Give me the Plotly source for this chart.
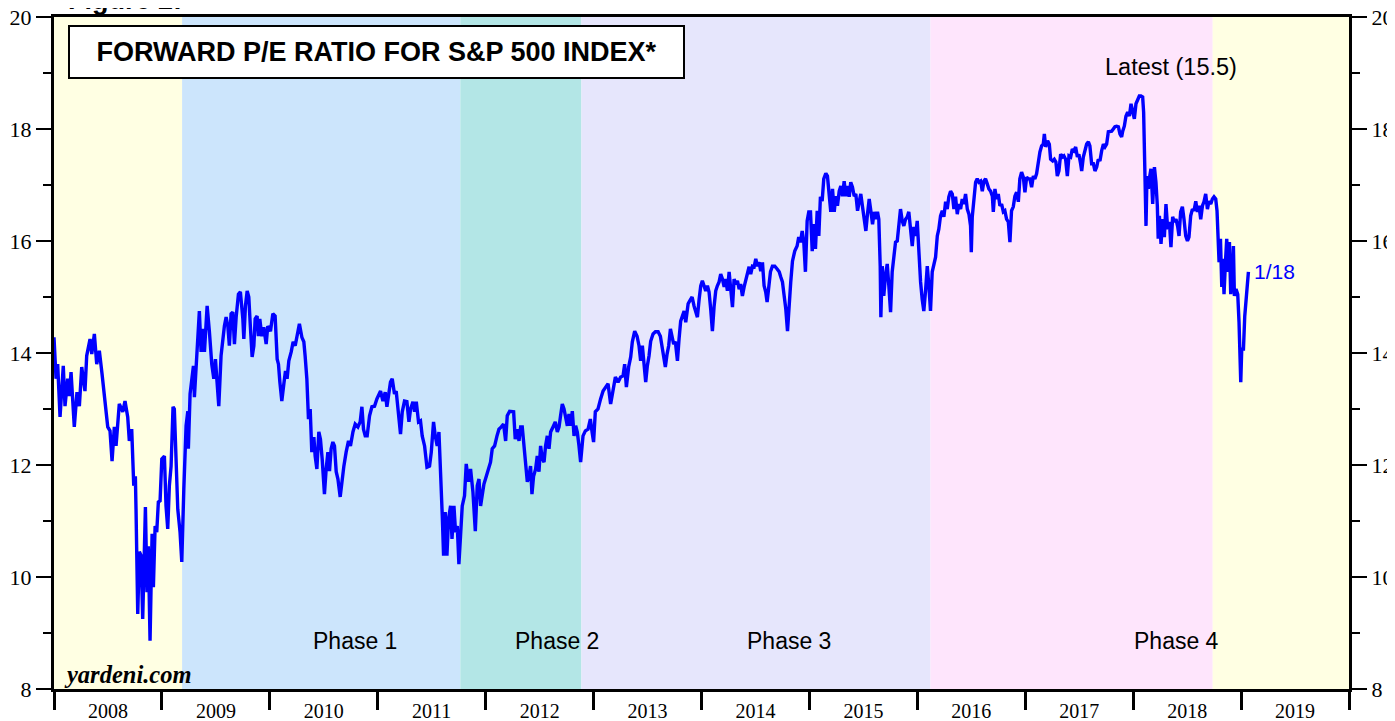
import plotly.graph_objects as go

# Forward P/E for S&P 500 (weekly-ish readings), time as decimal year
dates = [
2008.000,2008.019,2008.034,2008.056,2008.086,2008.102,2008.127,2008.142,2008.158,2008.188,
2008.213,2008.235,2008.257,2008.287,2008.303,2008.334,2008.350,2008.374,2008.396,2008.420,
2008.445,2008.473,2008.498,2008.519,2008.538,2008.559,2008.575,2008.605,2008.637,2008.658,
2008.683,2008.698,2008.720,2008.739,2008.754,2008.760,2008.776,2008.791,2008.807,2008.822,
2008.837,2008.847,2008.862,2008.874,2008.890,2008.909,2008.921,2008.937,2008.952,2008.967,
2008.983,2008.999,2009.023,2009.038,2009.054,2009.069,2009.085,2009.103,2009.115,2009.128,
2009.147,2009.168,2009.184,
2009.203,2009.224,2009.240,2009.245,2009.261,2009.277,2009.292,2009.301,2009.317,2009.332,
2009.347,2009.363,2009.379,2009.394,2009.419,2009.440,2009.462,2009.481,2009.496,2009.511,
2009.527,2009.548,2009.564,2009.579,2009.595,2009.611,2009.625,2009.641,2009.657,2009.672,
2009.688,2009.709,2009.727,2009.750,2009.759,2009.774,2009.790,2009.805,2009.820,2009.836,
2009.852,2009.864,2009.882,2009.894,2009.907,2009.926,2009.944,2009.966,2009.981,2010.006,
2010.028,2010.049,2010.068,2010.080,2010.093,2010.111,2010.130,2010.145,2010.160,2010.176,
2010.198,2010.216,2010.235,2010.253,2010.274,2010.297,2010.315,2010.327,2010.343,2010.358,
2010.374,2010.389,2010.408,2010.420,2010.436,2010.454,2010.469,2010.485,2010.506,2010.522,
2010.538,2010.553,2010.568,2010.584,2010.599,2010.615,2010.631,2010.652,2010.670,2010.686,
2010.707,2010.729,2010.747,2010.770,2010.791,2010.816,2010.837,2010.853,2010.868,2010.884,
2010.902,2010.924,2010.946,2010.970,2010.992,2011.011,2011.026,2011.048,2011.069,2011.085,
2011.100,2011.118,2011.134,2011.155,2011.171,2011.192,2011.211,2011.227,2011.248,2011.270,
2011.289,2011.304,2011.326,2011.341,2011.357,2011.378,2011.396,2011.412,2011.434,2011.456,
2011.480,2011.496,2011.517,2011.533,2011.551,2011.567,2011.582,2011.598,2011.610,2011.625,
2011.641,2011.656,2011.675,2011.688,2011.706,2011.721,2011.737,2011.752,2011.767,2011.783,
2011.804,2011.820,2011.841,2011.860,2011.882,2011.904,2011.922,2011.938,2011.953,
2011.984,2012.006,2012.027,2012.045,2012.061,2012.083,2012.105,2012.123,2012.145,2012.166,
2012.185,2012.200,2012.222,2012.244,2012.259,2012.274,2012.293,2012.309,2012.324,2012.339,
2012.355,2012.370,2012.386,2012.401,2012.416,2012.429,2012.444,2012.463,2012.478,2012.494,
2012.509,2012.525,2012.541,2012.555,2012.571,2012.587,2012.602,2012.624,2012.645,2012.664,
2012.680,2012.694,2012.710,2012.726,2012.741,2012.757,2012.772,2012.787,2012.803,2012.819,
2012.834,2012.849,2012.865,2012.880,
2012.902,2012.924,2012.949,2012.970,2012.986,2013.000,2013.016,2013.041,2013.065,2013.088,
2013.112,2013.134,2013.158,2013.180,2013.202,2013.227,2013.251,2013.273,2013.288,2013.304,
2013.325,2013.344,2013.359,2013.381,2013.403,2013.421,2013.436,2013.452,2013.468,2013.483,
2013.498,2013.514,2013.529,2013.551,2013.573,2013.598,2013.619,2013.635,2013.650,2013.665,
2013.681,2013.696,2013.712,2013.727,2013.742,2013.758,2013.777,2013.792,2013.807,2013.823,
2013.839,2013.854,2013.876,2013.891,2013.913,2013.931,2013.946,2013.962,2013.978,2013.993,
2014.008,2014.024,2014.039,2014.055,2014.070,2014.085,2014.101,2014.117,2014.132,2014.147,
2014.163,2014.178,2014.194,2014.210,2014.224,2014.240,2014.256,2014.271,2014.287,2014.302,
2014.317,2014.333,2014.349,2014.363,2014.379,2014.395,2014.410,2014.426,2014.441,2014.456,
2014.472,2014.488,2014.503,2014.518,2014.534,2014.549,2014.565,2014.580,2014.595,2014.608,
2014.623,2014.639,2014.657,2014.679,2014.701,2014.720,2014.734,2014.750,2014.766,2014.781,
2014.797,2014.812,2014.827,
2014.843,2014.864,2014.886,2014.901,2014.917,2014.933,2014.948,2014.963,2014.979,2014.994,
2015.010,2015.026,2015.040,2015.056,2015.072,2015.087,2015.102,2015.118,2015.133,2015.152,
2015.167,2015.183,2015.198,2015.214,2015.230,2015.244,2015.260,2015.276,2015.291,2015.306,
2015.322,2015.337,2015.353,2015.369,2015.383,2015.399,2015.415,2015.430,2015.446,2015.461,
2015.476,2015.492,2015.508,2015.523,2015.538,2015.554,2015.569,2015.585,2015.600,2015.615,
2015.631,2015.643,2015.656,2015.662,2015.675,2015.689,2015.705,2015.721,2015.736,2015.752,
2015.767,2015.782,2015.798,2015.814,2015.829,2015.844,2015.860,2015.875,2015.891,2015.906,
2015.921,2015.937,2015.953,2015.968,2015.983,2015.999,2016.014,2016.030,2016.045,2016.060,
2016.076,2016.092,2016.107,2016.122,2016.138,2016.153,2016.169,2016.185,2016.199,2016.215,
2016.231,2016.246,2016.262,2016.277,2016.292,2016.308,2016.324,2016.339,2016.354,2016.370,
2016.385,2016.401,2016.416,2016.431,2016.447,2016.463,2016.478,2016.493,2016.500,2016.509,
2016.524,2016.540,2016.555,2016.570,2016.586,2016.602,2016.617,2016.632,2016.648,2016.663,
2016.679,
2016.695,2016.704,2016.719,2016.734,2016.750,2016.765,2016.781,2016.797,2016.811,2016.827,
2016.843,2016.858,2016.873,2016.889,2016.904,2016.920,2016.936,2016.950,2016.966,2016.982,
2016.997,2017.013,2017.028,2017.043,2017.059,2017.075,2017.089,2017.105,2017.121,2017.136,
2017.152,2017.167,2017.177,2017.189,2017.207,2017.223,2017.235,2017.254,2017.269,2017.284,
2017.297,2017.312,2017.328,2017.344,2017.358,2017.374,2017.390,2017.405,2017.421,2017.436,
2017.451,2017.467,2017.483,2017.497,2017.513,2017.523,2017.538,2017.553,2017.569,2017.585,
2017.599,2017.615,2017.631,2017.646,2017.662,2017.677,2017.692,2017.708,2017.724,2017.739,
2017.754,2017.770,2017.785,2017.801,2017.816,2017.831,2017.847,2017.863,2017.878,2017.893,
2017.903,2017.918,2017.933,2017.949,2017.965,2017.980,2017.995,2018.011,2018.026,2018.042,
2018.057,2018.072,2018.088,2018.097,2018.104,2018.113,2018.119,2018.128,2018.141,2018.150,
2018.165,2018.181,2018.197,2018.211,2018.224,2018.232,2018.243,2018.258,
2018.274,2018.289,2018.304,2018.320,2018.336,2018.350,2018.366,2018.382,2018.397,2018.413,
2018.425,2018.440,2018.456,2018.471,2018.487,2018.503,2018.517,2018.533,2018.549,2018.564,
2018.580,2018.595,2018.610,2018.626,2018.642,2018.656,2018.672,2018.688,2018.703,2018.719,
2018.734,2018.749,2018.765,2018.777,2018.790,2018.796,2018.809,2018.821,2018.830,2018.842,
2018.855,2018.867,2018.879,2018.892,2018.904,2018.920,2018.929,2018.938,2018.953,2018.969,
2018.981,2018.990,2018.997,2019.006,2019.022,2019.034,2019.046,2019.055,2019.068,
]

pe = [
14.28,13.54,13.80,12.86,13.77,13.05,13.54,13.23,13.66,12.68,
13.30,13.05,13.75,13.32,13.95,14.25,13.98,14.34,13.80,14.04,
13.63,13.12,12.68,12.61,12.07,12.68,12.34,13.09,12.95,13.14,
12.86,12.43,12.64,11.63,11.80,11.21,9.34,10.45,10.38,9.25,
10.68,11.25,9.73,10.55,8.86,10.77,9.82,10.91,10.80,11.34,
11.36,12.11,12.16,11.27,10.86,11.63,11.98,13.04,13.00,12.34,
11.21,10.80,10.27,
11.57,12.70,12.96,12.29,13.27,13.59,13.77,13.21,13.80,14.39,
14.75,14.02,14.43,14.02,14.84,14.38,13.80,13.54,13.89,13.48,
13.05,13.95,14.28,14.48,14.64,14.48,14.13,14.70,14.73,14.16,
14.64,15.05,15.09,14.61,14.25,14.84,15.11,15.00,14.46,13.93,
14.13,14.61,14.66,14.30,14.61,14.30,14.46,14.16,14.48,14.39,
14.70,14.66,13.89,13.80,13.48,13.14,13.45,13.68,13.54,13.86,
14.02,14.20,14.13,14.30,14.52,14.28,14.20,13.95,13.54,12.82,
13.00,12.23,12.50,12.16,11.93,12.59,12.46,12.11,11.48,11.93,
12.23,11.89,12.29,12.41,12.34,11.88,11.75,11.43,11.80,11.98,
12.23,12.43,12.34,12.59,12.73,12.68,12.77,13.04,12.64,12.52,
12.52,12.88,13.04,13.05,13.18,13.27,13.32,13.14,13.30,13.04,
13.30,13.48,13.54,13.27,13.32,12.95,12.55,12.95,13.14,13.13,
12.77,13.00,13.13,12.95,13.13,12.77,12.79,12.52,12.34,11.96,
11.98,12.23,12.77,12.52,12.34,12.59,11.98,11.09,10.38,11.16,
10.38,11.04,11.27,10.68,11.27,10.80,10.91,10.23,10.73,11.27,
11.45,12.02,11.70,11.93,11.52,10.82,11.63,11.75,11.27,
11.66,11.80,11.93,12.05,12.29,12.34,12.52,12.64,12.68,12.73,
12.43,12.88,12.96,12.96,12.95,12.46,12.64,12.43,12.68,12.68,
12.34,12.11,11.70,11.80,11.98,11.48,11.80,11.93,12.16,11.88,
12.34,12.11,12.05,12.34,12.52,12.29,12.59,12.68,12.77,12.59,
12.68,12.88,13.09,13.00,12.88,12.70,12.91,12.70,12.96,12.52,
12.70,12.59,12.34,12.05,
12.52,12.61,12.64,12.82,12.59,12.41,12.95,13.00,13.18,13.32,
13.39,13.45,13.09,13.36,13.57,13.48,13.57,13.59,13.80,13.39,
13.75,13.93,14.20,14.39,14.30,14.13,13.86,14.13,13.84,13.48,
13.77,13.95,14.21,14.34,14.38,14.38,14.30,14.11,13.89,13.75,
13.98,14.13,14.43,14.30,14.16,14.20,13.86,14.25,14.57,14.66,
14.75,14.55,14.88,14.93,15.00,14.84,14.75,14.64,14.96,15.20,
15.29,15.18,15.11,15.20,15.09,14.79,14.39,14.84,15.11,15.20,
15.27,15.41,15.32,15.18,15.32,15.11,15.45,15.14,14.82,15.32,
15.23,15.29,15.14,15.23,15.02,15.18,15.32,15.46,15.54,15.41,
15.55,15.54,15.68,15.55,15.62,15.46,15.62,15.20,15.09,14.91,
15.23,15.45,15.55,15.55,15.50,15.45,15.36,15.27,15.02,14.79,
14.39,14.93,15.27,
15.64,15.82,15.91,16.07,15.98,16.18,15.98,15.45,16.36,16.52,
16.52,15.82,16.30,15.86,16.54,16.09,16.79,16.71,17.11,17.21,
17.16,16.80,16.52,16.93,16.52,16.80,16.63,16.89,16.98,16.80,
17.07,16.80,16.98,16.79,17.05,16.96,16.80,16.84,16.54,16.70,
16.84,16.61,16.34,16.18,16.48,16.75,16.54,16.30,16.52,16.39,
16.52,16.39,15.55,14.64,15.55,15.02,15.38,15.59,15.20,14.73,
15.45,15.68,15.98,16.00,16.36,16.57,16.36,16.27,16.39,16.43,
16.52,16.18,15.91,16.25,16.09,16.36,15.77,15.27,14.96,14.75,
15.11,15.55,15.20,14.75,15.45,15.55,15.71,16.09,16.21,16.45,
16.54,16.43,16.70,16.57,16.79,16.89,16.84,16.57,16.79,16.48,
16.66,16.57,16.75,16.66,16.84,16.57,16.48,16.27,15.80,16.43,
16.80,17.05,17.11,17.05,17.07,16.89,17.07,17.11,17.02,16.93,
16.89,
16.80,16.52,16.93,16.75,16.84,16.63,16.66,16.52,16.54,16.39,
16.34,15.98,16.54,16.61,16.80,16.87,16.70,17.11,17.23,17.14,
16.87,17.14,17.11,17.11,16.96,17.16,17.11,17.20,17.41,17.59,
17.70,17.73,17.91,17.68,17.79,17.73,17.46,17.43,17.46,17.41,
17.16,17.25,17.55,17.50,17.52,17.46,17.16,17.52,17.50,17.64,
17.61,17.68,17.50,17.55,17.38,17.25,17.50,17.64,17.73,17.77,
17.70,17.38,17.38,17.25,17.32,17.46,17.43,17.61,17.73,17.68,
17.73,17.95,17.95,17.96,18.00,18.04,18.05,18.04,17.91,17.86,
17.96,18.05,18.23,18.30,18.23,18.45,18.32,18.18,18.45,18.54,
18.59,18.59,18.57,18.30,17.70,16.93,16.27,17.16,16.93,17.11,
17.29,16.66,17.32,17.05,16.63,16.04,16.45,15.95,
16.39,16.07,16.66,16.21,16.34,15.89,16.43,16.34,16.39,16.25,
16.09,16.52,16.61,16.39,16.09,16.00,16.07,16.45,16.57,16.54,
16.71,16.52,16.63,16.39,16.63,16.70,16.84,16.57,16.71,16.66,
16.75,16.79,16.75,16.54,16.07,15.62,16.04,15.18,15.68,15.05,
15.62,16.04,15.45,15.98,15.05,15.41,15.91,15.02,15.14,15.05,
14.55,14.02,13.48,14.07,14.07,14.66,14.96,15.00,15.45,
]

# Background phase bands (decimal-year boundaries) and their colours
band_edges = [2008.0, 2009.187, 2011.765, 2012.887, 2016.122, 2018.737, 2020.0]
band_colors = ["#FFFFE3", "#CCE5FC", "#B3E6E6", "#E6E6FC", "#FEE5FC", "#FFFFE3"]

phase_labels = ["Phase 1", "Phase 2", "Phase 3", "Phase 4"]
phase_x = [2010.790, 2012.662, 2014.810, 2018.406]
phase_y = 8.85

year_labels = [str(y) for y in range(2008, 2020)]
year_mid = [y + 0.5 for y in range(2008, 2020)]
y_major = [8, 10, 12, 14, 16, 18, 20]

SANS = "Liberation Sans, Arial, sans-serif"
SERIF = "Liberation Serif, Times New Roman, serif"

fig = go.Figure()

fig.add_trace(go.Scatter(
    x=dates, y=pe, mode="lines",
    line=dict(color="#0000FF", width=3.4),
    showlegend=False, hoverinfo="skip"))

# invisible companion trace so the right-hand axis is drawn
fig.add_trace(go.Scatter(
    x=[dates[0]], y=[pe[0]], yaxis="y2", mode="lines",
    line=dict(width=0), showlegend=False, hoverinfo="skip"))

for i, c in enumerate(band_colors):
    fig.add_vrect(x0=band_edges[i], x1=band_edges[i + 1], fillcolor=c,
                  opacity=1, line_width=0, layer="below")

annotations = []
for lab, px in zip(phase_labels, phase_x):
    annotations.append(dict(x=px, y=phase_y, xref="x", yref="y", text=lab,
                            showarrow=False, font=dict(family=SANS, size=23, color="black")))

annotations += [
    dict(x=0.2489, y=0.9484, xref="paper", yref="paper", xanchor="center", yanchor="middle",
         text="<b>FORWARD P/E RATIO FOR S&P 500 INDEX*</b>",
         showarrow=False, font=dict(family=SANS, size=27, color="black"),
         bgcolor="white", bordercolor="black", borderwidth=2, borderpad=2,
         width=609, height=46, align="center", valign="middle"),
    dict(x=2018.349, y=19.11, xref="x", yref="y", text="Latest (15.5)",
         showarrow=False, font=dict(family=SANS, size=23.5, color="black")),
    dict(x=dates[-1], y=pe[-1], xref="x", yref="y", text="1/18",
         xanchor="left", xshift=4, showarrow=False,
         font=dict(family=SANS, size=21, color="#0000FF")),
    dict(x=0.006, y=8.255, xref="paper", yref="y", text="<b><i>yardeni.com</i></b>",
         xanchor="left", showarrow=False, font=dict(family=SERIF, size=24.5, color="black")),
    dict(x=0.0092, y=1.0004, xref="paper", yref="paper", text="<b>Figure 2:</b>",
         xanchor="left", yanchor="bottom", showarrow=False,
         font=dict(family=SANS, size=27, color="black")),
]

fig.update_layout(
    # page body has an 8px margin, so the figure is sized to fit the 1395x721 window
    width=1387, height=713,
    margin=dict(l=46, r=46, t=9, b=32, autoexpand=False),
    paper_bgcolor="white", plot_bgcolor="white",
    showlegend=False,
    annotations=annotations,
    xaxis=dict(
        range=[2008, 2020], showgrid=False, zeroline=False, automargin=False,
        tickmode="array", tickvals=year_mid, ticktext=year_labels,
        ticks="", tickfont=dict(family=SERIF, size=20, color="black"),
        ticklabelstandoff=2, ticklabeloverflow="allow",
        showline=True, linecolor="black", linewidth=3, mirror=True,
        minor=dict(tick0=2008, dtick=1, ticks="outside", ticklen=18,
                   tickwidth=2.5, tickcolor="black", showgrid=False),
    ),
    yaxis=dict(
        range=[8, 20], showgrid=False, zeroline=False, automargin=False,
        tickmode="array", tickvals=y_major, ticklabeloverflow="allow",
        ticks="outside", ticklen=15, tickwidth=2, tickcolor="black",
        tickfont=dict(family=SERIF, size=22, color="black"),
        showline=True, linecolor="black", linewidth=3, mirror=True,
        minor=dict(dtick=1, tick0=8, ticks="outside", ticklen=8,
                   tickwidth=2, tickcolor="black", showgrid=False),
    ),
    yaxis2=dict(
        range=[8, 20], overlaying="y", side="right", showgrid=False, zeroline=False,
        automargin=False, ticklabeloverflow="allow",
        tickmode="array", tickvals=y_major,
        ticks="outside", ticklen=15, tickwidth=2, tickcolor="black",
        tickfont=dict(family=SERIF, size=22, color="black"),
        showline=True, linecolor="black", linewidth=3,
        minor=dict(dtick=1, tick0=8, ticks="outside", ticklen=8,
                   tickwidth=2, tickcolor="black", showgrid=False),
    ),
)

fig.write_html("out.html")
